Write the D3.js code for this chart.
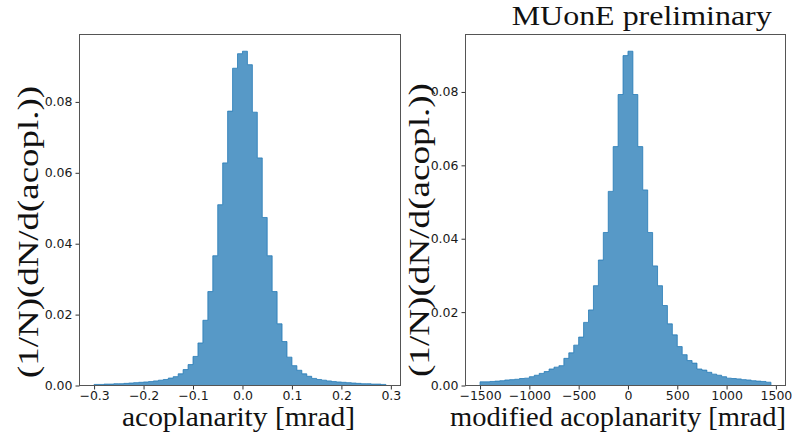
<!DOCTYPE html>
<html>
<head>
<meta charset="utf-8">
<script src="https://cdn.jsdelivr.net/npm/d3@7"></script>
<style>
  body { margin: 0; background: #fff; }
  svg { display: block; }
</style>
</head>
<body>
<svg id="chart" width="797" height="434"></svg>
<script>
// Acoplanarity histogram: 59 bins of 0.01 mrad starting at -0.30
const acoplBinStart = -0.30;
const acoplBinWidth = 0.01;
const acoplValues = [
  0.0003, 0.0003, 0.0004, 0.0004, 0.0005, 0.0005, 0.0006, 0.0007, 0.0008, 0.0009,
  0.0010, 0.0011, 0.0013, 0.0015, 0.0017, 0.0021, 0.0025, 0.0033, 0.0045, 0.0059,
  0.0082, 0.0120, 0.0184, 0.0265, 0.0366, 0.0510, 0.0628, 0.0774, 0.0895, 0.0936,
  0.0943, 0.0905, 0.0771, 0.0642, 0.0474, 0.0366, 0.0265, 0.0174, 0.0124, 0.0080,
  0.0056, 0.0043, 0.0033, 0.0026, 0.0020, 0.0017, 0.0015, 0.0013, 0.0011, 0.0010,
  0.0009, 0.0008, 0.0007, 0.0006, 0.0005, 0.0005, 0.0004, 0.0004, 0.0003
];
const acoplTicksX = [-0.3, -0.2, -0.1, 0.0, 0.1, 0.2, 0.3];
const acoplTickLabelsX = ["\u22120.3", "\u22120.2", "\u22120.1", "0.0", "0.1", "0.2", "0.3"];

// Modified acoplanarity histogram: 59 bins of 50 mrad starting at -1500
const modBinStart = -1500;
const modBinWidth = 50;
const modValues = [
  0.0010, 0.0010, 0.0011, 0.0012, 0.0013, 0.0015, 0.0016, 0.0017, 0.0019, 0.0020,
  0.0024, 0.0028, 0.0033, 0.0038, 0.0045, 0.0050, 0.0054, 0.0074, 0.0089, 0.0110,
  0.0132, 0.0172, 0.0206, 0.0272, 0.0342, 0.0417, 0.0529, 0.0651, 0.0793, 0.0899,
  0.0911, 0.0793, 0.0651, 0.0533, 0.0417, 0.0326, 0.0272, 0.0218, 0.0168, 0.0138,
  0.0106, 0.0084, 0.0068, 0.0061, 0.0045, 0.0042, 0.0036, 0.0031, 0.0028, 0.0024,
  0.0020, 0.0019, 0.0018, 0.0016, 0.0015, 0.0013, 0.0012, 0.0011, 0.0009
];
const modTicksX = [-1500, -1000, -500, 0, 500, 1000, 1500];
const modTickLabelsX = ["\u22121500", "\u22121000", "\u2212500", "0", "500", "1000", "1500"];

const ticksY = [0.00, 0.02, 0.04, 0.06, 0.08];
const tickLabelsY = ["0.00", "0.02", "0.04", "0.06", "0.08"];

const yLabelText = "(1/N)(dN/d(acopl.))";
const titleText = "MUonE preliminary";

const svg = d3.select("#chart");
const SERIF = "'Liberation Serif', 'DejaVu Serif', serif";
const SANS = "'DejaVu Sans', sans-serif";
const FILL = "rgba(31,119,180,0.75)";

function drawPanel(opt) {
  const { left, right, top, bottom, binStart, binWidth, values,
          xTicks, xTickLabels, xLabel, xLabelX, xLabelW,
          yLabelX, yLabelY, yLabelW } = opt;

  const edges = values.map((_, i) => binStart + i * binWidth);
  const lo = binStart;
  const hi = binStart + values.length * binWidth;
  const span = hi - lo;
  const x = d3.scaleLinear().domain([lo - 0.05 * span, hi + 0.05 * span]).range([left, right]);
  const y = d3.scaleLinear().domain([0, d3.max(values) * 1.05]).range([bottom, top]);

  const g = svg.append("g");

  // step-filled histogram outline
  const pts = [[lo, 0]];
  values.forEach((v, i) => {
    pts.push([edges[i], v]);
    pts.push([edges[i] + binWidth, v]);
  });
  pts.push([hi, 0]);
  const line = d3.line().x(d => x(d[0])).y(d => y(d[1]));
  g.append("path")
    .attr("d", line(pts) + "Z")
    .attr("fill", FILL)
    .attr("stroke", FILL)
    .attr("stroke-width", 1)
    .attr("stroke-linejoin", "miter");

  // axes
  const xAxis = d3.axisBottom(x).tickValues(xTicks)
    .tickFormat((d, i) => xTickLabels[i]).tickSizeOuter(0).tickSize(4).tickPadding(2);
  const yAxis = d3.axisLeft(y).tickValues(ticksY)
    .tickFormat((d, i) => tickLabelsY[i]).tickSizeOuter(0).tickSize(4).tickPadding(3);

  const gx = g.append("g").attr("transform", `translate(0,${bottom})`).call(xAxis);
  const gy = g.append("g").attr("transform", `translate(${left},0)`).call(yAxis);
  [gx, gy].forEach(a => {
    a.select(".domain").remove();
    a.selectAll(".tick line").attr("stroke", "#333").attr("stroke-width", 1);
    a.selectAll(".tick text").attr("fill", "#1a1a1a")
      .style("font-family", SANS).style("font-size", "12.5px");
  });

  // frame
  g.append("rect")
    .attr("x", left).attr("y", top)
    .attr("width", right - left).attr("height", bottom - top)
    .attr("fill", "none").attr("stroke", "#555").attr("stroke-width", 1);

  // x label
  g.append("text")
    .attr("x", xLabelX).attr("y", 426)
    .attr("text-anchor", "middle")
    .attr("textLength", xLabelW).attr("lengthAdjust", "spacingAndGlyphs")
    .style("font-family", SERIF).style("font-size", "27px").attr("fill", "#111")
    .text(xLabel);

  // y label
  g.append("text")
    .attr("transform", `translate(${yLabelX},${yLabelY}) rotate(-90)`)
    .attr("text-anchor", "middle")
    .attr("textLength", yLabelW).attr("lengthAdjust", "spacingAndGlyphs")
    .style("font-family", SERIF).style("font-size", "30px").attr("fill", "#111")
    .text(yLabelText);
}

drawPanel({
  left: 79.5, right: 400.5, top: 34.5, bottom: 385.5,
  binStart: acoplBinStart, binWidth: acoplBinWidth, values: acoplValues,
  xTicks: acoplTicksX, xTickLabels: acoplTickLabelsX,
  xLabel: "acoplanarity [mrad]", xLabelX: 238.5, xLabelW: 233,
  yLabelX: 38, yLabelY: 232, yLabelW: 292
});

drawPanel({
  left: 465.5, right: 785.5, top: 34.5, bottom: 385.5,
  binStart: modBinStart, binWidth: modBinWidth, values: modValues,
  xTicks: modTicksX, xTickLabels: modTickLabelsX,
  xLabel: "modified acoplanarity [mrad]", xLabelX: 618, xLabelW: 336,
  yLabelX: 429, yLabelY: 230, yLabelW: 294
});

// title over the right panel
svg.append("text")
  .attr("x", 641.7).attr("y", 25)
  .attr("text-anchor", "middle")
  .attr("textLength", 260).attr("lengthAdjust", "spacingAndGlyphs")
  .style("font-family", SERIF).style("font-size", "28px").attr("fill", "#111")
  .text(titleText);
</script>
</body>
</html>
